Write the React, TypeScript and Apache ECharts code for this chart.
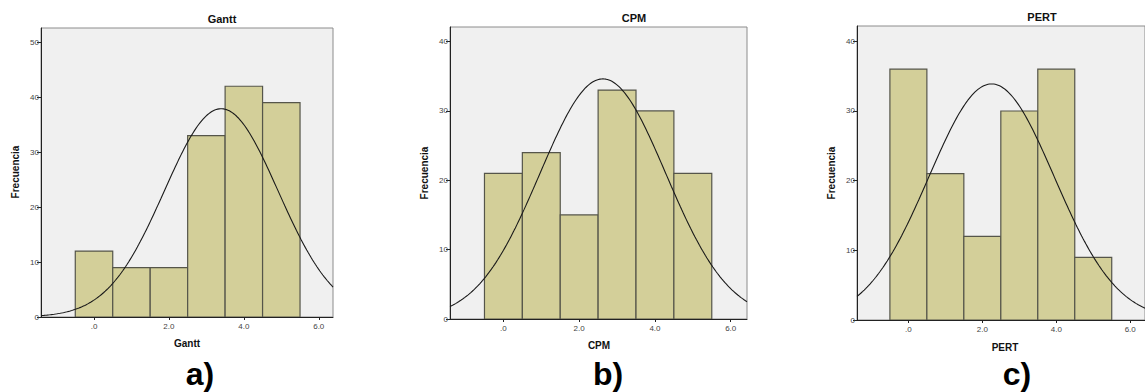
import React, { useEffect, useRef } from "react";
import * as echarts from "echarts";

// Bin centers (values 0..5), bin width 1
const binCenters = [0, 1, 2, 3, 4, 5];
const ganttCounts = [12, 9, 9, 33, 42, 39];
const cpmCounts = [21, 24, 15, 33, 30, 21];
const pertCounts = [36, 21, 12, 30, 36, 9];
const panelTitles = ["Gantt", "CPM", "PERT"];
const panelLetters = ["a)", "b)", "c)"];
const xTicks = [0, 2, 4, 6];
const yTicksA = [0, 10, 20, 30, 40, 50];
const yTicksBC = [0, 10, 20, 30, 40];

const FONT = "Liberation Sans, Arial, sans-serif";

function stats(counts: number[]) {
  const n = counts.reduce((a, b) => a + b, 0);
  const mean = counts.reduce((s, c, i) => s + c * binCenters[i], 0) / n;
  const ss = counts.reduce((s, c, i) => s + c * (binCenters[i] - mean) ** 2, 0);
  const sd = Math.sqrt(ss / (n - 1));
  return { n, mean, sd };
}

function normalCurve(counts: number[], xmin: number, xmax: number) {
  const { n, mean, sd } = stats(counts);
  const pts: number[][] = [];
  const steps = 200;
  for (let i = 0; i <= steps; i++) {
    const x = xmin + ((xmax - xmin) * i) / steps;
    const y = (n / (sd * Math.sqrt(2 * Math.PI))) * Math.exp(-0.5 * ((x - mean) / sd) ** 2);
    pts.push([x, y]);
  }
  return pts;
}

const panels = [
  { counts: ganttCounts, grid: { left: 41, top: 28, width: 292, height: 289 }, xmin: -1.415, xmax: 6.38, ymax: 52.6, yTicks: yTicksA,
    title: [222, 19], xname: [187, 343], yname: [15, 172], letter: [200, 374] },
  { counts: cpmCounts, grid: { left: 450, top: 27, width: 297, height: 292 }, xmin: -1.41, xmax: 6.43, ymax: 42.1, yTicks: yTicksBC,
    title: [634, 18], xname: [599, 345], yname: [424, 173], letter: [608, 374] },
  { counts: pertCounts, grid: { left: 857, top: 26, width: 296, height: 294 }, xmin: -1.39, xmax: 6.4, ymax: 42.2, yTicks: yTicksBC,
    title: [1042, 17], xname: [1005, 347], yname: [831, 173], letter: [1017, 374] },
];

export default function App() {
  const ref = useRef<HTMLDivElement>(null);
  useEffect(() => {
    if (!ref.current) return;
    const chart = echarts.init(ref.current, null, { renderer: "svg" });
    const grids: any[] = [];
    const xAxes: any[] = [];
    const yAxes: any[] = [];
    const series: any[] = [];
    const graphics: any[] = [];
    panels.forEach((p, k) => {
      grids.push({ ...p.grid, show: true, backgroundColor: "#f0f0f0", borderColor: "#8c8c8c", borderWidth: 1, containLabel: false });
      xAxes.push({
        type: "value", gridIndex: k, min: p.xmin, max: p.xmax,
        splitLine: { show: false },
        axisLine: { show: true, onZero: false, lineStyle: { color: "#222", width: 1 } },
        axisTick: { show: true, length: 3, customValues: xTicks, lineStyle: { color: "#222" } },
        axisLabel: {
          customValues: xTicks, fontSize: 8, color: "#444", fontFamily: FONT, margin: 5,
          formatter: (v: number) => (v === 0 ? ".0" : v.toFixed(1)),
        },
      });
      yAxes.push({
        type: "value", gridIndex: k, min: 0, max: p.ymax,
        splitLine: { show: false },
        axisLine: { show: true, onZero: false, lineStyle: { color: "#222", width: 1 } },
        axisTick: { show: true, length: 4, customValues: p.yTicks, lineStyle: { color: "#222" } },
        axisLabel: { customValues: p.yTicks, fontSize: 8, color: "#444", fontFamily: FONT, margin: 2 },
      });
      series.push({
        type: "custom", xAxisIndex: k, yAxisIndex: k, clip: true,
        data: p.counts.map((c, i) => [binCenters[i] - 0.5, binCenters[i] + 0.5, c]),
        renderItem: (params: any, api: any) => {
          const a = api.coord([api.value(0), api.value(2)]);
          const b = api.coord([api.value(1), 0]);
          return {
            type: "rect",
            shape: { x: a[0], y: a[1], width: b[0] - a[0], height: b[1] - a[1] },
            style: { fill: "#d3cf99", stroke: "#55554a", lineWidth: 1.2 },
          };
        },
      });
      series.push({
        type: "line", xAxisIndex: k, yAxisIndex: k, showSymbol: false, clip: true,
        data: normalCurve(p.counts, p.xmin, p.xmax),
        lineStyle: { color: "#1a1a1a", width: 1.1 }, silent: true,
      });
      graphics.push(
        { type: "text", x: p.title[0], y: p.title[1], style: { text: panelTitles[k], font: `bold 11px ${FONT}`, fill: "#111", textAlign: "center", textVerticalAlign: "middle" } },
        { type: "text", x: p.xname[0], y: p.xname[1], style: { text: panelTitles[k], font: `bold 10px ${FONT}`, fill: "#111", textAlign: "center", textVerticalAlign: "middle" } },
        { type: "text", x: p.yname[0], y: p.yname[1], rotation: Math.PI / 2, style: { text: "Frecuencia", font: `bold 10px ${FONT}`, fill: "#111", textAlign: "center", textVerticalAlign: "middle" } },
        { type: "text", x: p.letter[0], y: p.letter[1], style: { text: panelLetters[k], font: `bold 32px ${FONT}`, fill: "#000", textAlign: "center", textVerticalAlign: "middle" } },
      );
    });
    chart.setOption({
      animation: false,
      grid: grids,
      xAxis: xAxes,
      yAxis: yAxes,
      series,
      graphic: graphics,
    });
    return () => chart.dispose();
  }, []);
  return <div ref={ref} style={{ position: "fixed", left: 0, top: 0, width: 1145, height: 392, background: "#fff" }} />;
}
